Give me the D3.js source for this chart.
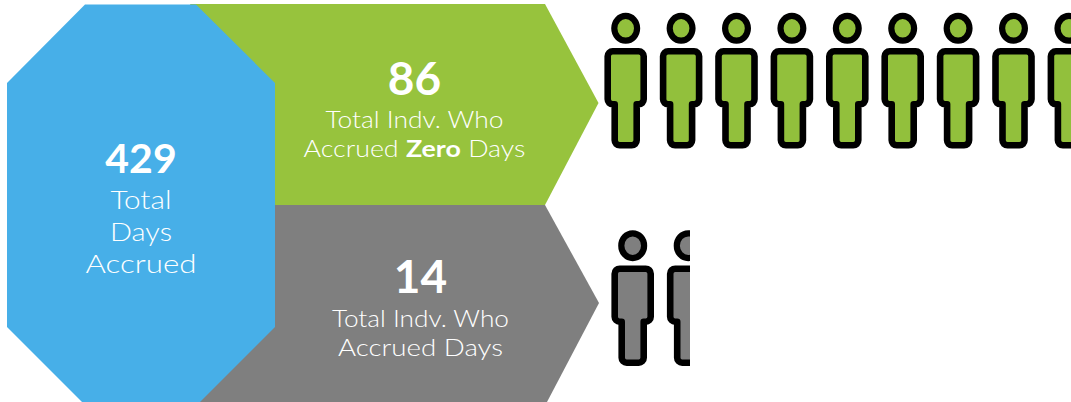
<!DOCTYPE html>
<html>
<head>
<meta charset="utf-8">
<script src="https://cdn.jsdelivr.net/npm/d3@7"></script>
<style>
  html, body { margin: 0; padding: 0; background: #fff; overflow: hidden; }
  svg { display: block; }
  .num { font-family: Lato, sans-serif; font-weight: 700; fill: #fff; text-anchor: middle; }
  .lbl { font-family: Lato, sans-serif; font-weight: 300; fill: #fff; text-anchor: middle; }
  .lbl .strong { font-weight: 700; }
</style>
</head>
<body>
<div id="chart"></div>
<script>
const totalDays = 429;
const zeroCount = 86;
const accruedCount = 14;
const totalLabel = ['Total', 'Days', 'Accrued'];
const zeroLabel = ['Total Indv. Who', 'Accrued <tspan class="strong">Zero</tspan> Days'];
const accruedLabel = ['Total Indv. Who', 'Accrued Days'];
// icons shown in each row of the picture (cropped, not one per person)
const zeroIcons = d3.range(9);
const accruedIcons = d3.range(2);

const width = 1071, height = 402;
const BLUE = '#47afe8', GREEN = '#97c33d', GRAY = '#7f7f7f', ICON_GREEN = '#92c03c';

const svg = d3.select('#chart').append('svg')
  .attr('width', width).attr('height', height);

const line = d3.line();

// Arrows go under the octagon
svg.append('path').attr('fill', GREEN)
  .attr('d', line([[190, 4], [545, 4], [598.5, 103], [545, 205], [270, 205]]) + 'Z');
svg.append('path').attr('fill', GRAY)
  .attr('d', line([[270, 205], [545, 205], [599, 303], [547, 402], [190, 402]]) + 'Z');
svg.append('path').attr('fill', BLUE)
  .attr('d', line([[85, 4.5], [196, 4.5], [275, 83], [275, 327], [200, 402], [82, 402], [7, 327], [7, 83]]) + 'Z');

// widths squeeze Lato out to the wider look of the original face
function addText(cx, numY, numSize, numValue, lines, lineY, lineGap, lineSize, lineWidths) {
  svg.append('text').attr('class', 'num')
    .attr('x', cx).attr('y', numY)
    .style('font-size', numSize + 'px')
    .text(numValue);
  lines.forEach((t, i) => {
    svg.append('text').attr('class', 'lbl')
      .attr('x', cx).attr('y', lineY + i * lineGap)
      .attr('textLength', lineWidths[i]).attr('lengthAdjust', 'spacingAndGlyphs')
      .style('font-size', lineSize + 'px')
      .html(t);
  });
}

addText(141, 173, 41, totalDays, totalLabel, 209, 32, 25, [61, 62, 111]);
addText(414.5, 95, 46, zeroCount, zeroLabel, 128, 29, 23, [178, 222]);
addText(420.5, 293, 46, accruedCount, accruedLabel, 327, 29, 23, [177, 165]);

// Person icon, drawn around the head centre
const personBody = 'M-13,23 H13 a5,5 0 0 1 5,5 V71 a5,5 0 0 1 -5,5 H11 V112 a5,5 0 0 1 -5,5 H-6 a5,5 0 0 1 -5,-5 V76 H-13 a5,5 0 0 1 -5,-5 V28 a5,5 0 0 1 5,-5 Z';

function addPeople(icons, firstX, step, headY, fill, clipRight) {
  const x = d3.scaleLinear().domain([0, 1]).range([firstX, firstX + step]);
  const id = 'clip-' + fill.slice(1);
  svg.append('clipPath').attr('id', id).append('rect')
    .attr('x', 590).attr('y', 0).attr('width', clipRight - 590).attr('height', height);
  const g = svg.append('g').attr('clip-path', `url(#${id})`);
  const p = g.selectAll('g').data(icons).join('g')
    .attr('transform', d => `translate(${x(d)},${headY})`);
  p.append('ellipse')
    .attr('rx', 11.4).attr('ry', 12.4)
    .attr('fill', fill).attr('stroke', '#000').attr('stroke-width', 6.2);
  p.append('path').attr('d', personBody)
    .attr('fill', fill).attr('stroke', '#000').attr('stroke-width', 6.6).attr('stroke-linejoin', 'round');
}

addPeople(zeroIcons, 625.7, 55.4, 28.3, ICON_GREEN, width);
addPeople(accruedIcons, 632.7, 55.5, 245.7, GRAY, 690);
</script>
</body>
</html>
